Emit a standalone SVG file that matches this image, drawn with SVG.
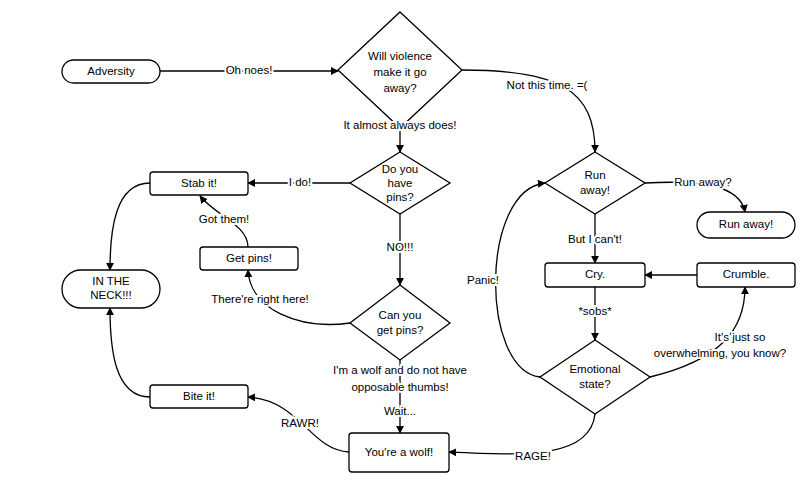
<svg xmlns="http://www.w3.org/2000/svg" width="800" height="500" viewBox="0 0 800 500">
<style>
.n{fill:#fff;stroke:#000;stroke-width:1.3}
text{font-family:"Liberation Sans",Arial,sans-serif;font-size:11.5px;fill:#000;text-anchor:middle;dominant-baseline:middle}
.c path{fill:none;stroke:#000;stroke-width:1.3;marker-end:url(#a)}
.l{paint-order:stroke;stroke:#fff;stroke-width:4px}
</style>
<defs><marker id="a" viewBox="0 0 10 10" refX="9" refY="5" markerWidth="8" markerHeight="8" orient="auto" markerUnits="userSpaceOnUse"><path d="M0,0L10,5L0,10z" fill="#000"/></marker></defs>
<rect width="800" height="500" fill="#fff"/>
<g class="c">
<path d="M160,71H338"/>
<path d="M462,70C560,70 595,90 595,152"/>
<path d="M400,128V152"/>
<path d="M350,183H248"/>
<path d="M400,214V285"/>
<path d="M350,323C300,330 250,310 248,270"/>
<path d="M248,247C248,225 215,215 200,196"/>
<path d="M150,183C115,183 110,230 110,270"/>
<path d="M400,360V433"/>
<path d="M349,452C310,450 300,400 248,397"/>
<path d="M150,397C115,397 110,350 110,308"/>
<path d="M645,183C700,180 740,185 745,212"/>
<path d="M595,214V263"/>
<path d="M595,287V340"/>
<path d="M540,377C480,370 480,190 545,183"/>
<path d="M650,377C720,360 745,330 745,287"/>
<path d="M697,275H645"/>
<path d="M595,414C590,460 520,455 449,452"/>
</g>
<g id="adversity"><rect class="n" x="62" y="60" width="98" height="23" rx="11.5"/><text x="111" y="71.5">Adversity</text></g>
<g id="violence"><path class="n" d="M400,12L462,70L400,128L338,70Z"/><text x="400" y="57">Will violence</text><text x="400" y="73">make it go</text><text x="400" y="89">away?</text></g>
<g id="pins"><path class="n" d="M400,152L450,183L400,214L350,183Z"/><text x="400" y="170">Do you</text><text x="400" y="184">have</text><text x="400" y="198">pins?</text></g>
<g id="stab"><rect class="n" x="150" y="172" width="98" height="23" rx="3"/><text x="199" y="183.5">Stab it!</text></g>
<g id="getpins"><rect class="n" x="200" y="247" width="98" height="23" rx="3"/><text x="249" y="258.5">Get pins!</text></g>
<g id="neck"><rect class="n" x="62" y="270" width="98" height="38" rx="19"/><text x="111" y="282">IN THE</text><text x="111" y="296">NECK!!!</text></g>
<g id="canget"><path class="n" d="M400,285L450,323L400,360L350,323Z"/><text x="400" y="316">Can you</text><text x="400" y="331">get pins?</text></g>
<g id="bite"><rect class="n" x="150" y="385" width="98" height="23" rx="3"/><text x="199" y="396.5">Bite it!</text></g>
<g id="wolf"><rect class="n" x="349" y="433" width="100" height="39" rx="3"/><text x="399" y="453">You're a wolf!</text></g>
<g id="runq"><path class="n" d="M595,152L645,183L595,214L545,183Z"/><text x="595" y="176">Run</text><text x="595" y="191">away!</text></g>
<g id="runaway"><rect class="n" x="697" y="212" width="98" height="26" rx="13"/><text x="746" y="225">Run away!</text></g>
<g id="cry"><rect class="n" x="545" y="263" width="100" height="24" rx="3"/><text x="595" y="275">Cry.</text></g>
<g id="crumble"><rect class="n" x="697" y="263" width="98" height="24" rx="3"/><text x="746" y="275">Crumble.</text></g>
<g id="emo"><path class="n" d="M595,340L650,377L595,414L540,377Z"/><text x="595" y="370">Emotional</text><text x="595" y="385">state?</text></g>
<g>
<text class="l" x="249" y="71">Oh noes!</text>
<text class="l" x="547" y="86">Not this time. =(</text>
<text class="l" x="400" y="126">It almost always does!</text>
<text class="l" x="300" y="183">I do!</text>
<text class="l" x="400" y="248">NO!!!</text>
<text class="l" x="260" y="300">There're right here!</text>
<text class="l" x="224" y="220">Got them!</text>
<text class="l" x="400" y="371">I'm a wolf and do not have</text>
<text class="l" x="400" y="388">opposable thumbs!</text>
<text class="l" x="400" y="412">Wait...</text>
<text class="l" x="300" y="424">RAWR!</text>
<text class="l" x="703" y="183">Run away?</text>
<text class="l" x="595" y="240">But I can't!</text>
<text class="l" x="595" y="312">*sobs*</text>
<text class="l" x="483" y="281">Panic!</text>
<text class="l" x="740" y="338">It's just so</text>
<text class="l" x="720" y="354">overwhelming, you know?</text>
<text class="l" x="533" y="457">RAGE!</text>
</g>
</svg>
